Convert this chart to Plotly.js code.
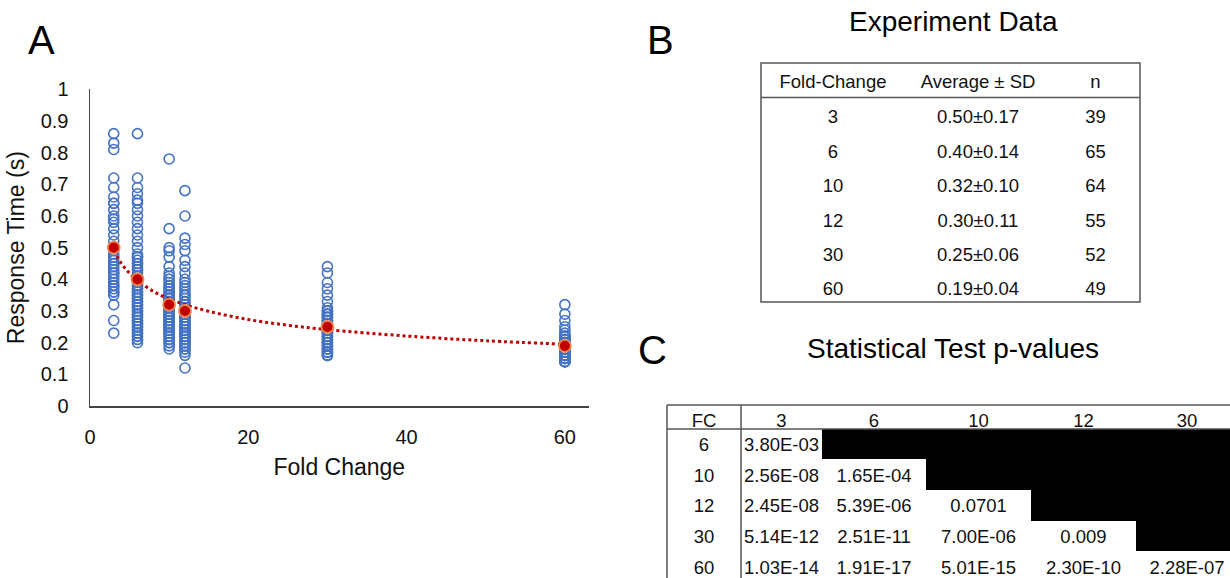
<!DOCTYPE html>
<html>
<head>
<meta charset="utf-8">
<script src="https://cdn.plot.ly/plotly-3.0.1.min.js"></script>
<style>html,body{margin:0;padding:0;background:#fff;overflow:hidden}#chart{width:1238px;height:600px}</style>
</head>
<body>
<div id="chart"></div>
<script>
// ---------- data ----------
const foldChange = [3, 6, 10, 12, 30, 60];
const fc3 = [0.86,0.83,0.81,0.72,0.69,0.66,0.64,0.64,0.62,0.60,0.59,0.58,0.56,0.54,0.52,0.50,0.50,0.49,0.48,0.47,0.46,0.45,0.45,0.44,0.43,0.42,0.42,0.41,0.40,0.39,0.38,0.38,0.37,0.36,0.36,0.35,0.32,0.27,0.23];
const fc6 = [0.86,0.72,0.69,0.67,0.65,0.64,0.62,0.60,0.58,0.56,0.54,0.52,0.50,0.48,0.47,0.47,0.46,0.45,0.45,0.44,0.43,0.43,0.42,0.41,0.41,0.40,0.40,0.39,0.38,0.38,0.37,0.37,0.36,0.36,0.35,0.35,0.34,0.34,0.33,0.33,0.32,0.32,0.31,0.31,0.30,0.30,0.29,0.29,0.28,0.28,0.27,0.27,0.26,0.26,0.25,0.25,0.24,0.24,0.23,0.23,0.22,0.22,0.21,0.21,0.20];
const fc10 = [0.78,0.56,0.50,0.49,0.47,0.44,0.42,0.41,0.40,0.40,0.39,0.38,0.38,0.37,0.37,0.36,0.36,0.35,0.35,0.35,0.34,0.34,0.34,0.33,0.33,0.33,0.32,0.32,0.32,0.31,0.31,0.31,0.30,0.30,0.30,0.29,0.29,0.29,0.29,0.28,0.28,0.28,0.27,0.27,0.27,0.26,0.26,0.26,0.25,0.25,0.25,0.24,0.24,0.24,0.23,0.23,0.22,0.22,0.21,0.21,0.20,0.20,0.19,0.18];
const fc12 = [0.68,0.60,0.53,0.51,0.49,0.46,0.44,0.42,0.40,0.39,0.38,0.37,0.36,0.35,0.35,0.34,0.33,0.33,0.32,0.31,0.31,0.30,0.30,0.29,0.29,0.28,0.28,0.28,0.27,0.27,0.26,0.26,0.26,0.25,0.25,0.24,0.24,0.24,0.23,0.23,0.23,0.22,0.22,0.22,0.21,0.21,0.20,0.20,0.19,0.19,0.18,0.18,0.17,0.16,0.12];
const fc30 = [0.44,0.42,0.39,0.37,0.35,0.33,0.31,0.30,0.30,0.30,0.29,0.29,0.29,0.28,0.28,0.28,0.27,0.27,0.27,0.26,0.26,0.26,0.25,0.25,0.25,0.24,0.24,0.24,0.23,0.23,0.23,0.22,0.22,0.22,0.21,0.21,0.21,0.20,0.20,0.20,0.19,0.19,0.19,0.18,0.18,0.18,0.17,0.17,0.17,0.16,0.16,0.16];
const fc60 = [0.32,0.29,0.27,0.25,0.24,0.23,0.22,0.22,0.22,0.22,0.21,0.21,0.21,0.21,0.20,0.20,0.20,0.20,0.20,0.19,0.19,0.19,0.19,0.19,0.18,0.18,0.18,0.18,0.18,0.18,0.17,0.17,0.17,0.17,0.17,0.16,0.16,0.16,0.16,0.16,0.15,0.15,0.15,0.15,0.15,0.14,0.14,0.14,0.14];
const groups = [fc3, fc6, fc10, fc12, fc30, fc60];

const means = [0.50, 0.40, 0.32, 0.30, 0.25, 0.19];
const sds = [0.17, 0.14, 0.10, 0.11, 0.06, 0.04];
const counts = [39, 65, 64, 55, 52, 49];

// dotted trend line
const trendX = [3, 4, 5, 6, 8, 10, 12, 15, 20, 25, 30, 40, 50, 60];
const trendY = [0.49, 0.449, 0.419, 0.396, 0.362, 0.338, 0.320, 0.299, 0.273, 0.255, 0.241, 0.221, 0.206, 0.195];

const tableBHeaders = ['Fold-Change', 'Average ± SD', 'n'];

const pColHeaders = ['FC', '3', '6', '10', '12', '30'];
const pRowLabels = ['6', '10', '12', '30', '60'];
const pVs3 = ['3.80E-03', '2.56E-08', '2.45E-08', '5.14E-12', '1.03E-14'];
const pVs6 = ['', '1.65E-04', '5.39E-06', '2.51E-11', '1.91E-17'];
const pVs10 = ['', '', '0.0701', '7.00E-06', '5.01E-15'];
const pVs12 = ['', '', '', '0.009', '2.30E-10'];
const pVs30 = ['', '', '', '', '2.28E-07'];

// ---------- layout helpers ----------
// the figure is slightly larger than the window: table C runs off the right and bottom edges
const W = 1238, H = 600;
const FONT = 'Liberation Sans, Arial, Helvetica, sans-serif';
const px = v => v / W;
const py = v => 1 - v / H;

const traces = [];
groups.forEach((vals, i) => {
  traces.push({
    type: 'scatter', mode: 'markers',
    x: vals.map(() => foldChange[i]), y: vals,
    marker: {symbol: 'circle-open', size: 10, color: '#4472C4', line: {width: 1.6}},
    hoverinfo: 'x+y', showlegend: false
  });
});
traces.push({
  type: 'scatter', mode: 'lines', x: trendX, y: trendY,
  line: {shape: 'spline', smoothing: 1, dash: 'dot', color: '#C00000', width: 3},
  showlegend: false, hoverinfo: 'skip'
});
traces.push({
  type: 'scatter', mode: 'markers', x: foldChange, y: means,
  marker: {size: 12, color: '#C00000', line: {color: '#F08A4B', width: 1.8}},
  showlegend: false
});

// Table B
traces.push({
  type: 'table',
  domain: {x: [px(761), px(1140)], y: [py(312), py(66.5)]},
  columnwidth: [144, 146, 89],
  header: {
    values: tableBHeaders, align: 'center', height: 35,
    font: {family: FONT, size: 18.5, color: '#111'},
    fill: {color: 'white'}, line: {color: 'white', width: 0}
  },
  cells: {
    values: [foldChange.map(String), means.map((m, i) => m.toFixed(2) + '±' + sds[i].toFixed(2)), counts.map(String)],
    align: 'center', height: 34.4,
    font: {family: FONT, size: 18.5, color: '#111'},
    fill: {color: 'white'}, line: {color: 'white', width: 0}
  }
});

// Table C
const pCols = [pVs3, pVs6, pVs10, pVs12, pVs30];
const fillC = [pRowLabels.map(() => 'white')].concat(pCols.map(col => col.map(v => v === '' ? 'black' : 'white')));
traces.push({
  type: 'table',
  domain: {x: [px(667), 1], y: [0, py(405)]},
  columnwidth: [74, 81, 104, 105, 105, 102],
  header: {
    values: pColHeaders, align: 'center', height: 24,
    font: {family: FONT, size: 18.5, color: '#111'},
    fill: {color: 'white'}, line: {color: 'white', width: 0}
  },
  cells: {
    values: [pRowLabels].concat(pCols),
    align: 'center', height: 30.7,
    font: {family: FONT, size: 18.5, color: '#111'},
    fill: {color: fillC}, line: {color: fillC, width: 1}
  }
});

const lineStyle = {color: '#555', width: 1.5};
const shapes = [
  // table B frame + header rule
  {type: 'rect', xref: 'paper', yref: 'paper', x0: px(761), x1: px(1140), y0: py(302), y1: py(63), line: lineStyle},
  {type: 'line', xref: 'paper', yref: 'paper', x0: px(761), x1: px(1140), y0: py(97.5), y1: py(97.5), line: lineStyle},
  // table C frame (runs off the page edge) + rules
  {type: 'line', xref: 'paper', yref: 'paper', x0: px(667), x1: 1, y0: py(405), y1: py(405), line: lineStyle},
  {type: 'line', xref: 'paper', yref: 'paper', x0: px(667), x1: 1, y0: py(429), y1: py(429), line: lineStyle},
  {type: 'line', xref: 'paper', yref: 'paper', x0: px(667), x1: px(667), y0: 0, y1: py(405), line: lineStyle},
  {type: 'line', xref: 'paper', yref: 'paper', x0: px(741), x1: px(741), y0: 0, y1: py(405), line: lineStyle}
];

const annot = (text, x, y, size) => ({
  text, x: px(x), y: py(y), xref: 'paper', yref: 'paper', showarrow: false,
  xanchor: 'center', yanchor: 'middle', font: {family: FONT, size, color: '#000'}
});

const layout = {
  width: W, height: H,
  margin: {l: 0, r: 0, t: 0, b: 0},
  paper_bgcolor: 'white', plot_bgcolor: 'white',
  showlegend: false,
  font: {family: FONT, color: '#111'},
  xaxis: {
    domain: [px(90), px(588.6)], range: [0, 63],
    tick0: 0, dtick: 20, showgrid: false, zeroline: false,
    showline: true, linecolor: '#444', linewidth: 1.5,
    ticks: '', ticklabelstandoff: 12,
    tickfont: {family: FONT, size: 20, color: '#111'},
    title: {text: 'Fold Change', font: {family: FONT, size: 23, color: '#111'}, standoff: 12}
  },
  yaxis: {
    domain: [py(406), py(89.3)], range: [0, 1],
    tick0: 0, dtick: 0.1, showgrid: false, zeroline: false,
    showline: true, linecolor: '#444', linewidth: 1.5,
    ticks: '', ticklabelstandoff: 16,
    tickfont: {family: FONT, size: 20, color: '#111'},
    title: {text: 'Response Time (s)', font: {family: FONT, size: 23, color: '#111'}, standoff: 9}
  },
  shapes,
  annotations: [
    annot('A', 41, 40, 40),
    annot('B', 660, 40, 40),
    annot('C', 652, 350, 40),
    annot('Experiment Data', 953, 22, 28),
    annot('Statistical Test p-values', 953, 348, 28)
  ]
};

Plotly.newPlot('chart', traces, layout, {displayModeBar: false, staticPlot: true});
</script>
</body>
</html>
